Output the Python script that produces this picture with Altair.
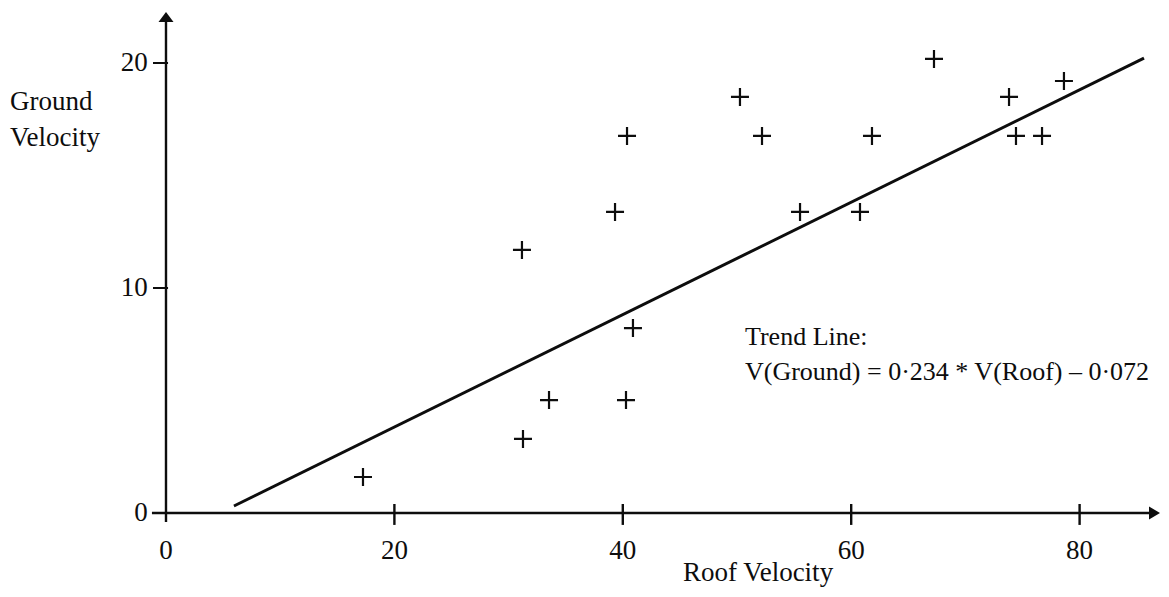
import altair as alt
import pandas as pd

# ---- data ----
roof = [17.25, 31.26, 31.17, 33.54, 39.32, 40.37, 40.28, 40.89, 50.26, 52.19,
        55.52, 60.77, 61.82, 67.25, 73.82, 74.43, 76.71, 78.63]
ground = [1.60, 3.29, 11.69, 5.02, 13.38, 16.76, 5.02, 8.22, 18.49, 16.76,
          13.38, 13.38, 16.76, 20.18, 18.49, 16.76, 16.76, 19.20]

trend_x = [5.95, 85.64]
trend_y = [0.31, 20.22]

x_tick_values = [20, 40, 60, 80]
x_label_values = [0, 20, 40, 60, 80]
x_label_texts = ["0", "20", "40", "60", "80"]
y_tick_values = [10, 20]
y_label_values = [0, 10, 20]
y_label_texts = ["0", "10", "20"]

x_title = "Roof Velocity"
y_title_lines = ["Ground", "Velocity"]
trend_lines = ["Trend Line:", "V(Ground) = 0·234 * V(Roof) – 0·072"]

# ---- layout constants ----
INK = "#0d0d0d"
FONT = "Liberation Serif"
FS = 27
FS_ANN = 26
W, H = 1153, 581
xs = alt.Scale(domain=[-13.835, 87.128], nice=False, zero=False)
ys = alt.Scale(domain=[-3.378, 22.444], nice=False, zero=False)


def X(f):
    return alt.X(f, type="quantitative", scale=xs, axis=None)


def Y(f):
    return alt.Y(f, type="quantitative", scale=ys, axis=None)


# axes lines
axes_df = pd.DataFrame({
    "x": [-1.23, 0.0], "x2": [86.3, 0.0],
    "y": [0.0, -0.4], "y2": [0.0, 21.9],
})
axes = alt.Chart(axes_df).mark_rule(color=INK, strokeWidth=2.4).encode(
    x=X("x"), x2="x2", y=Y("y"), y2="y2")

# tick marks
xt_df = pd.DataFrame({"x": x_tick_values, "lo": -0.53, "hi": 0.40})
xticks = alt.Chart(xt_df).mark_rule(color=INK, strokeWidth=2.4).encode(
    x=X("x"), y=Y("lo"), y2="hi")
yt_df = pd.DataFrame({"y": y_tick_values, "lo": -1.14, "hi": 0.18})
yticks = alt.Chart(yt_df).mark_rule(color=INK, strokeWidth=2.0).encode(
    y=Y("y"), x=X("lo"), x2="hi")

# arrowheads
up_df = pd.DataFrame({"x": [0.0], "y": [22.04]})
arrow_up = alt.Chart(up_df).mark_point(
    shape="M0,-0.67L1,0.67L-1,0.67Z", filled=True, size=225, color=INK, opacity=1
).encode(x=X("x"), y=Y("y"))
right_df = pd.DataFrame({"x": [86.56], "y": [0.0]})
arrow_right = alt.Chart(right_df).mark_point(
    shape="M1,0L-1,-1.18L-1,1.18Z", filled=True, size=121, color=INK, opacity=1
).encode(x=X("x"), y=Y("y"))

# tick labels
xl_df = pd.DataFrame({"x": x_label_values, "t": x_label_texts, "y": -1.69})
xlabels = alt.Chart(xl_df).mark_text(
    font=FONT, fontSize=FS, color=INK, align="center", baseline="middle"
).encode(x=X("x"), y=Y("y"), text="t")
yl_df = pd.DataFrame({"y": y_label_values, "t": y_label_texts, "x": -1.6})
ylabels = alt.Chart(yl_df).mark_text(
    font=FONT, fontSize=FS, color=INK, align="right", baseline="middle"
).encode(x=X("x"), y=Y("y"), text="t")

# axis titles
yt_title_df = pd.DataFrame({"t": y_title_lines, "x": -13.66, "y": [17.91, 16.31]})
ytitle = alt.Chart(yt_title_df).mark_text(
    font=FONT, fontSize=FS, color=INK, align="left", baseline="alphabetic"
).encode(x=X("x"), y=Y("y"), text="t")
xt_title_df = pd.DataFrame({"t": [x_title], "x": [51.84], "y": [-3.02]})
xtitle = alt.Chart(xt_title_df).mark_text(
    font=FONT, fontSize=FS, color=INK, align="center", baseline="alphabetic"
).encode(x=X("x"), y=Y("y"), text="t")

# points
pts_df = pd.DataFrame({"roof": roof, "ground": ground})
points = alt.Chart(pts_df).mark_point(
    shape="M-1,0L1,0M0,-1L0,1", filled=False, size=324, color=INK,
    strokeWidth=2.2, opacity=1
).encode(x=X("roof"), y=Y("ground"))

# trend line
tr_df = pd.DataFrame({"roof": trend_x, "ground": trend_y})
trend = alt.Chart(tr_df).mark_line(color=INK, strokeWidth=3).encode(
    x=X("roof"), y=Y("ground"))

# trend annotation
ann_df = pd.DataFrame({"t": trend_lines, "x": 50.7, "y": [7.47, 5.91]})
ann = alt.Chart(ann_df).mark_text(
    font=FONT, fontSize=FS_ANN, color=INK, align="left", baseline="alphabetic"
).encode(x=X("x"), y=Y("y"), text="t")

chart = alt.layer(
    axes, xticks, yticks, arrow_up, arrow_right, trend, points,
    xlabels, ylabels, ytitle, xtitle, ann
).properties(
    width=W, height=H, padding=0,
    autosize=alt.AutoSizeParams(type="none"),
    background="white",
).configure_view(stroke=None)

chart.save("out.html", embed_options={"renderer": "svg", "actions": False})
